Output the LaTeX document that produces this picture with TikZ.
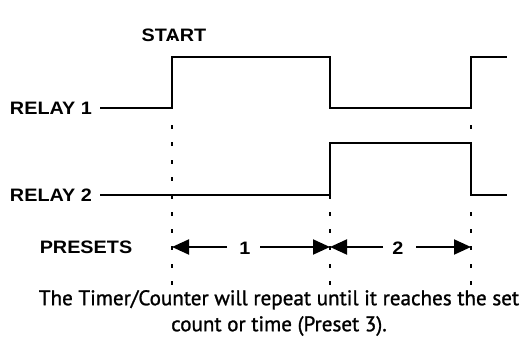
\documentclass[tikz,border=0pt]{standalone}
\usepackage{graphicx}
\usepackage{fontspec}
\setmainfont{Liberation Sans}
\newfontfamily\bodyfont[BoldFont={PT Sans},BoldFeatures={FakeBold=1.2}]{PT Sans}
\usetikzlibrary{arrows.meta}
\newcommand{\widetext}[1]{\scalebox{1.1}[1]{#1}}
\begin{document}
\begin{tikzpicture}[x=1pt,y=-1pt,
  wave/.style={line width=2pt, line join=miter},
  lbl/.style={font=\fontsize{18}{18}\selectfont\bfseries, inner sep=0pt},
  arr/.style={line width=2pt, -{Triangle[length=17pt,width=15pt]}},
  dotmark/.style={fill=black},
]
\useasboundingbox (0,0) rectangle (528,356);
% labels
\node[lbl] (start) at (174,35) {\widetext{START}};
\node[lbl, anchor=east] (r1) at (92,108) {\widetext{RELAY 1}};
\node[lbl, anchor=east] (r2) at (92,195) {\widetext{RELAY 2}};
\node[lbl] (pre) at (86,247) {\widetext{PRESETS}};
% waveforms
\draw[wave] (100,108) -- (172,108) -- (172,57) -- (330,57) -- (330,108) -- (471,108) -- (471,57) -- (507,57);
\draw[wave] (100,195) -- (330,195) -- (330,143) -- (471,143) -- (471,195) -- (507,195);
% dotted guides
\foreach \yy in {38,127,144,162,179,197,214,231,248,266,283}
  \fill[dotmark] (171,\yy-1.75) rectangle ++(2,3.5);
\foreach \yy in {197,214,231,248,266,283}
  \fill[dotmark] (329,\yy-1.75) rectangle ++(2,3.5);
\foreach \yy in {127,214,231,248,266,283}
  \fill[dotmark] (470,\yy-1.75) rectangle ++(2,3.5);
% presets arrows
\coordinate (p0) at (172,247);
\coordinate (p1) at (330,247);
\coordinate (p2) at (471,247);
\node[lbl] (n1) at (245,248) {\widetext{1}};
\node[lbl] (n2) at (398,248) {\widetext{2}};
\draw[arr] (227,247) -- (p0);
\draw[arr] (260,247) -- (p1);
\draw[arr] (383,247) -- (p1);
\draw[arr] (416,247) -- (p2);
% caption
\node[align=center, inner sep=0pt, font=\bodyfont\bfseries\fontsize{21.1}{26}\selectfont] (cap) at (279,313)
  {The Timer/Counter will repeat until it reaches the set\\count or time (Preset 3).};
\end{tikzpicture}
\end{document}
